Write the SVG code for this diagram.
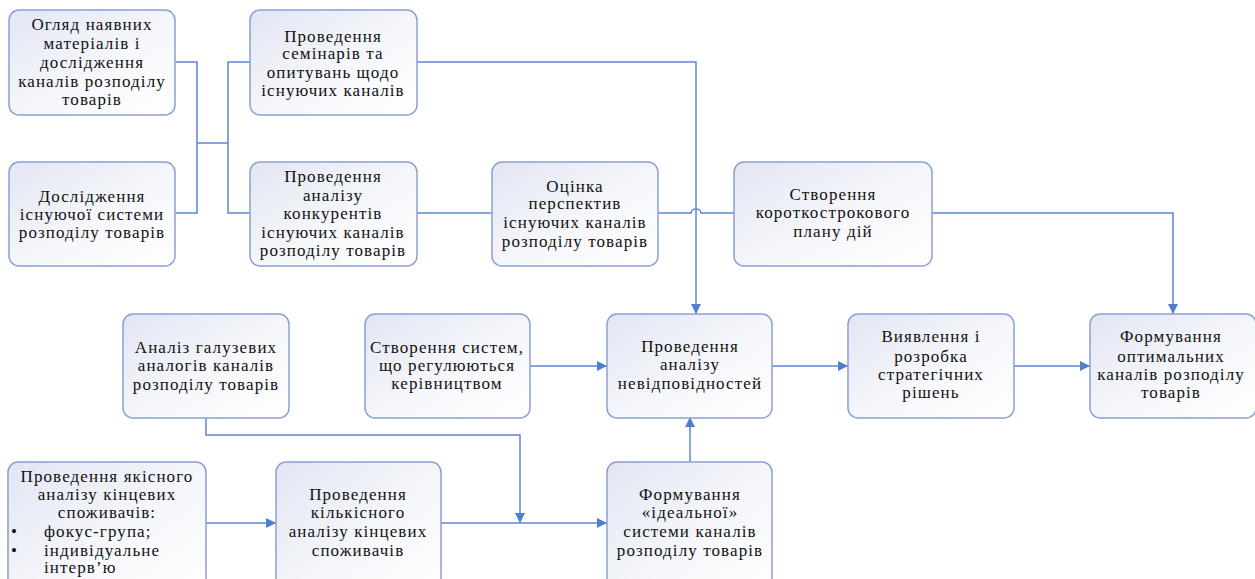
<svg xmlns="http://www.w3.org/2000/svg" width="1255" height="579" viewBox="0 0 1255 579">
<defs>
<linearGradient id="g" x1="0" y1="0" x2="1" y2="1">
<stop offset="0" stop-color="#e2e6f3"/>
<stop offset="0.55" stop-color="#f6f7fb"/>
<stop offset="1" stop-color="#ffffff"/>
</linearGradient>
<marker id="a" viewBox="0 0 10 10" refX="10" refY="5" markerWidth="10" markerHeight="10" markerUnits="userSpaceOnUse" orient="auto">
<path d="M0,0 L10,5 L0,10 z" fill="#4f7fcf"/>
</marker>
<style>
rect.n{fill:url(#g);stroke:#8aa0d6;stroke-width:1.5}
text{font-family:'Liberation Serif','Times New Roman',serif;font-size:17px;letter-spacing:1.1px;fill:#111;text-anchor:middle}
.c path{fill:none;stroke:#5b87d2;stroke-width:1.5}
.ar{marker-end:url(#a)}
</style>
</defs>
<rect width="1255" height="579" fill="#ffffff"/>
<g class="c" id="connectors">
<path d="M175,62 H197 V213 H175"/>
<path d="M197,143 H228"/>
<path d="M250,62 H228 V213 H250"/>
<path class="ar" d="M417,62 H696 V314"/>
<path d="M417,213 H492"/>
<path d="M658,213 H691 A5,4 0 0 1 701,213 H734"/>
<path class="ar" d="M932,213 H1173 V314"/>
<path class="ar" d="M530,366 H607"/>
<path class="ar" d="M772,366 H848"/>
<path class="ar" d="M1014,366 H1090"/>
<path class="ar" d="M690,462 V417"/>
<path class="ar" d="M206,417 V435 H520 V523"/>
<path class="ar" d="M206,523 H276"/>
<path class="ar" d="M441,523 H607"/>
</g>
<g font-family="Liberation Serif, serif">
<g id="n1"><rect class="n" x="9" y="10" width="166" height="105" rx="10"/>
<text><tspan x="92" y="30">Огляд наявних</tspan><tspan x="92" y="49">матеріалів і</tspan><tspan x="92" y="68">дослідження</tspan><tspan x="92" y="87">каналів розподілу</tspan><tspan x="92" y="105">товарів</tspan></text></g>
<g id="n2"><rect class="n" x="9" y="162" width="166" height="104" rx="10"/>
<text><tspan x="92" y="202">Дослідження</tspan><tspan x="92" y="220">існуючої системи</tspan><tspan x="92" y="238">розподілу товарів</tspan></text></g>
<g id="n3"><rect class="n" x="250" y="10" width="167" height="105" rx="10"/>
<text><tspan x="333" y="42">Проведення</tspan><tspan x="333" y="59">семінарів та</tspan><tspan x="333" y="78">опитувань щодо</tspan><tspan x="333" y="96">існуючих каналів</tspan></text></g>
<g id="n4"><rect class="n" x="250" y="162" width="167" height="104" rx="10"/>
<text><tspan x="333" y="182">Проведення</tspan><tspan x="333" y="201">аналізу</tspan><tspan x="333" y="219">конкурентів</tspan><tspan x="333" y="238">існуючих каналів</tspan><tspan x="333" y="256">розподілу товарів</tspan></text></g>
<g id="n5"><rect class="n" x="492" y="162" width="166" height="104" rx="10"/>
<text><tspan x="575" y="192">Оцінка</tspan><tspan x="575" y="209">перспектив</tspan><tspan x="575" y="228">існуючих каналів</tspan><tspan x="575" y="247">розподілу товарів</tspan></text></g>
<g id="n6"><rect class="n" x="734" y="162" width="198" height="104" rx="10"/>
<text><tspan x="833" y="200">Створення</tspan><tspan x="833" y="218">короткострокового</tspan><tspan x="833" y="237">плану дій</tspan></text></g>
<g id="n7"><rect class="n" x="123" y="314" width="166" height="104" rx="10"/>
<text><tspan x="206" y="353">Аналіз галузевих</tspan><tspan x="206" y="371">аналогів каналів</tspan><tspan x="206" y="390">розподілу товарів</tspan></text></g>
<g id="n8"><rect class="n" x="365" y="314" width="165" height="104" rx="10"/>
<text><tspan x="447" y="353">Створення систем,</tspan><tspan x="447" y="371">що регулюються</tspan><tspan x="447" y="389">керівництвом</tspan></text></g>
<g id="n9"><rect class="n" x="607" y="314" width="165" height="104" rx="10"/>
<text><tspan x="690" y="352">Проведення</tspan><tspan x="690" y="370">аналізу</tspan><tspan x="690" y="389">невідповідностей</tspan></text></g>
<g id="n10"><rect class="n" x="848" y="314" width="166" height="104" rx="10"/>
<text><tspan x="931" y="342">Виявлення і</tspan><tspan x="931" y="362">розробка</tspan><tspan x="931" y="380">стратегічних</tspan><tspan x="931" y="398">рішень</tspan></text></g>
<g id="n11"><rect class="n" x="1090" y="314" width="166" height="104" rx="10"/>
<text><tspan x="1171" y="342">Формування</tspan><tspan x="1171" y="362">оптимальних</tspan><tspan x="1171" y="380">каналів розподілу</tspan><tspan x="1171" y="398">товарів</tspan></text></g>
<g id="n12"><rect class="n" x="8" y="462" width="198" height="140" rx="10"/>
<text><tspan x="107" y="482">Проведення якісного</tspan><tspan x="107" y="500">аналізу кінцевих</tspan><tspan x="107" y="518">споживачів:</tspan></text>
<text style="text-anchor:start"><tspan x="11" y="537">•</tspan><tspan x="44" y="537">фокус-група;</tspan><tspan x="11" y="556">•</tspan><tspan x="44" y="556">індивідуальне</tspan><tspan x="44" y="573">інтерв’ю</tspan></text></g>
<g id="n13"><rect class="n" x="276" y="462" width="165" height="140" rx="10"/>
<text><tspan x="358" y="500">Проведення</tspan><tspan x="358" y="518">кількісного</tspan><tspan x="358" y="537">аналізу кінцевих</tspan><tspan x="358" y="556">споживачів</tspan></text></g>
<g id="n14"><rect class="n" x="607" y="462" width="165" height="140" rx="10"/>
<text><tspan x="690" y="500">Формування</tspan><tspan x="690" y="518">«ідеальної»</tspan><tspan x="690" y="537">системи каналів</tspan><tspan x="690" y="556">розподілу товарів</tspan></text></g>
</g>
</svg>
